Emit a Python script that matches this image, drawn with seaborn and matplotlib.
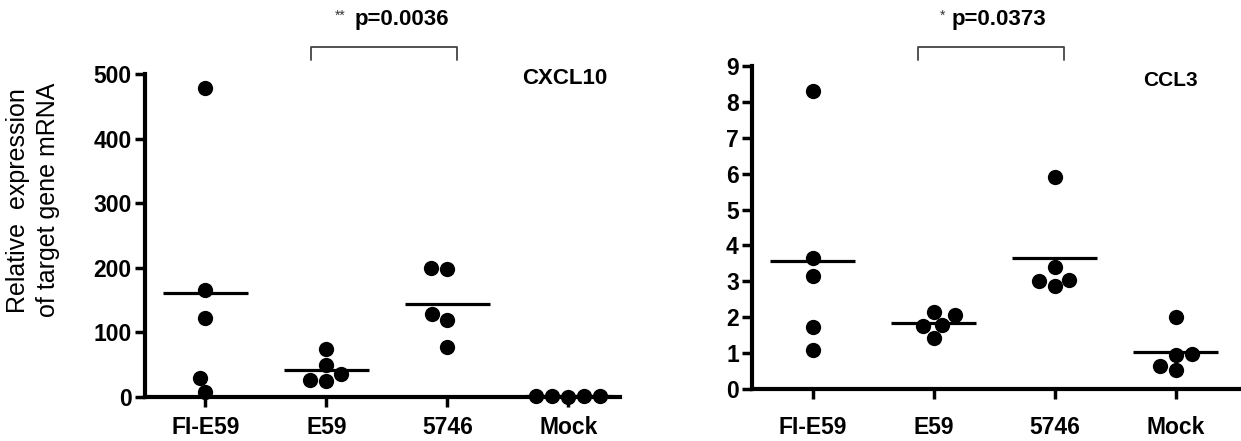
import pandas as pd
import matplotlib.pyplot as plt
import seaborn as sns
import numpy as np

# Datos
groups = ['FI-E59', 'E59', '5746', 'Mock']

cxcl10_fi_e59 = [478, 165, 122, 30, 8]
cxcl10_e59 = [75, 50, 35, 25, 27]
cxcl10_5746 = [198, 200, 128, 120, 78]
cxcl10_mock = [1.5, 0.5, 0.8, 1.0, 1.2]

ccl3_fi_e59 = [8.3, 3.65, 3.15, 1.72, 1.08]
ccl3_e59 = [2.15, 2.05, 1.75, 1.78, 1.42]
ccl3_5746 = [5.92, 3.4, 3.05, 2.88, 3.0]
ccl3_mock = [2.0, 0.95, 0.97, 0.52, 0.65]

p_cxcl10 = 'p=0.0036'
p_ccl3 = 'p=0.0373'


def long_df(values):
    rows = []
    for g, vals in zip(groups, values):
        for v in vals:
            rows.append({'group': g, 'value': v})
    return pd.DataFrame(rows)


sns.set_style('ticks')
plt.rcParams['font.family'] = ['Liberation Sans', 'DejaVu Sans']
plt.rcParams.update({'axes.edgecolor': 'black', 'xtick.color': 'black',
                     'ytick.color': 'black', 'text.color': 'black',
                     'axes.labelcolor': 'black'})

fig = plt.figure(figsize=(12.41, 4.41), dpi=100)
ax1 = fig.add_axes([0.1168, 0.0998, 0.383, 0.732])
ax2 = fig.add_axes([0.606, 0.118, 0.394, 0.732])


def draw_panel(ax, values, ymax, yticks, gene, gene_xy, gene_fs, star, ptxt, br_y, txt_y, xpad):
    df = long_df(values)
    sns.swarmplot(data=df, x='group', y='value', order=groups, color='black',
                  size=11, linewidth=0, ax=ax)
    for coll in ax.collections:
        coll.set_clip_on(False)
    means = df.groupby('group')['value'].mean().reindex(groups)
    ax.hlines(means.values, np.arange(4) - 0.35, np.arange(4) + 0.35,
              color='black', linewidth=2.3, zorder=3)
    ax.set_ylim(0, ymax)
    ax.set_yticks(yticks)
    ax.set_xlabel('')
    ax.set_ylabel('')
    for s in ['top', 'right']:
        ax.spines[s].set_visible(False)
    for s in ['left', 'bottom']:
        ax.spines[s].set_linewidth(3)
    ax.tick_params(width=2.5, length=7.5, labelsize=16.5)
    ax.tick_params(axis='y', pad=2)
    ax.tick_params(axis='x', pad=xpad)
    for lab in ax.get_xticklabels() + ax.get_yticklabels():
        lab.set_fontweight('bold')
    ax.text(gene_xy[0], gene_xy[1], gene, ha='center', va='center',
            fontsize=gene_fs, fontweight='bold')
    # corchete de significancia
    ax.plot([0.87, 0.87, 2.08, 2.08], [br_y[1], br_y[0], br_y[0], br_y[1]],
            color='#444444', linewidth=1.3, clip_on=False)
    ax.text(star[0], txt_y + 0.012 * ymax, star[1], ha='right', va='center',
            fontsize=10, color='#333333')
    ax.text(star[2], txt_y, ptxt, ha='center', va='center', fontsize=16,
            fontweight='bold')


draw_panel(ax1, [cxcl10_fi_e59, cxcl10_e59, cxcl10_5746, cxcl10_mock], 500,
           [0, 100, 200, 300, 400, 500], 'CXCL10', (2.97, 493), 16,
           (1.16, '**', 1.62), p_cxcl10, (542, 522), 585, 6)
ax1.set_xlim(-0.5, 3.43)
ax1.set_ylabel('Relative  expression\nof target gene mRNA', fontsize=18,
               linespacing=1.3)
ax1.yaxis.set_label_coords(-0.235, 0.61)
ax1.yaxis.label.set_verticalalignment('center')

draw_panel(ax2, [ccl3_fi_e59, ccl3_e59, ccl3_5746, ccl3_mock], 9,
           list(range(10)), 'CCL3', (2.96, 8.61), 15,
           (1.10, '*', 1.54), p_ccl3, (9.53, 9.17), 10.3, 12)
ax2.set_xlim(-0.5, 3.54)

plt.savefig('out.png', dpi=100)
